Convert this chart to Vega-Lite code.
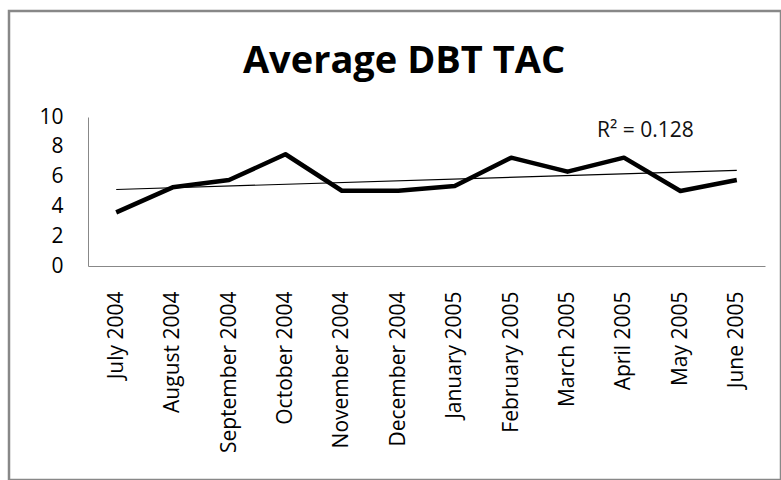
{
  "$schema": "https://vega.github.io/schema/vega-lite/v6.json",
  "autosize": "none",
  "width": 772,
  "height": 469,
  "padding": {"left": 9, "top": 11, "right": 0, "bottom": 0},
  "background": "white",
  "title": {
    "text": "Average DBT TAC",
    "font": "Open Sans",
    "fontSize": 38,
    "fontWeight": "bold",
    "color": "black",
    "anchor": "middle",
    "baseline": "alphabetic",
    "offset": 0,
    "dx": 9,
    "dy": 100
  },
  "config": {
    "view": {"stroke": "#888888", "strokeWidth": 2.5},
    "font": "Open Sans"
  },
  "datasets": {
    "months": [
      {"month": "July 2004", "idx": 1, "tac": 3.6},
      {"month": "August 2004", "idx": 2, "tac": 5.28},
      {"month": "September 2004", "idx": 3, "tac": 5.77},
      {"month": "October 2004", "idx": 4, "tac": 7.5},
      {"month": "November 2004", "idx": 5, "tac": 5.05},
      {"month": "December 2004", "idx": 6, "tac": 5.05},
      {"month": "January 2005", "idx": 7, "tac": 5.37},
      {"month": "February 2005", "idx": 8, "tac": 7.27},
      {"month": "March 2005", "idx": 9, "tac": 6.33},
      {"month": "April 2005", "idx": 10, "tac": 7.27},
      {"month": "May 2005", "idx": 11, "tac": 5.03},
      {"month": "June 2005", "idx": 12, "tac": 5.77}
    ],
    "note": [
      {"month": "April 2005", "idx": 10, "pos": 8.66, "label": "R² = 0.128"}
    ]
  },
  "encoding": {
    "x": {
      "field": "month",
      "type": "ordinal",
      "sort": {"field": "idx", "op": "min"},
      "scale": {"range": [79, 756], "padding": 0.5},
      "axis": {
        "title": null,
        "orient": "bottom",
        "offset": -214,
        "ticks": false,
        "grid": false,
        "domainColor": "#888888",
        "domainWidth": 1,
        "labelAngle": -90,
        "labelPadding": 25,
        "labelFontSize": 21,
        "labelFont": "Open Sans",
        "labelColor": "black",
        "labelOverlap": false,
        "labelBound": false
      }
    },
    "y": {
      "field": "tac",
      "type": "quantitative",
      "scale": {"domain": [0, 10], "range": [255, 106], "nice": false, "zero": true},
      "axis": {
        "title": null,
        "orient": "left",
        "offset": -79,
        "values": [0, 2, 4, 6, 8, 10],
        "ticks": false,
        "grid": false,
        "domainColor": "#888888",
        "domainWidth": 1,
        "labelPadding": 25,
        "labelFontSize": 21,
        "labelFont": "Open Sans",
        "labelColor": "black"
      }
    }
  },
  "layer": [
    {
      "data": {"name": "months"},
      "transform": [
        {"regression": "tac", "on": "idx"},
        {"lookup": "idx", "from": {"data": {"name": "months"}, "key": "idx", "fields": ["month"]}}
      ],
      "mark": {"type": "line", "color": "black", "strokeWidth": 1.2}
    },
    {
      "data": {"name": "months"},
      "mark": {"type": "line", "color": "black", "strokeWidth": 4.5, "strokeJoin": "round", "strokeCap": "butt"}
    },
    {
      "data": {"name": "note"},
      "mark": {"type": "text", "align": "left", "baseline": "alphabetic", "dx": -27, "fontSize": 21, "font": "Open Sans", "color": "#111111"},
      "encoding": {
        "y": {"field": "pos", "type": "quantitative"},
        "text": {"field": "label"}
      }
    }
  ]
}
